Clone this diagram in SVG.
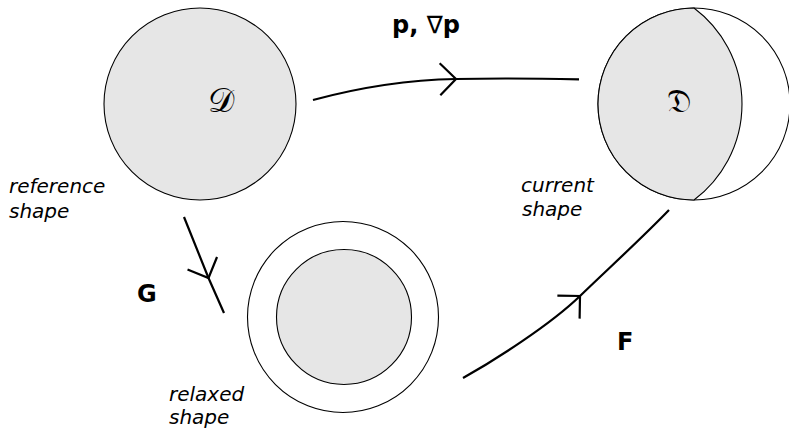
<svg xmlns="http://www.w3.org/2000/svg" width="789" height="432" viewBox="0 0 789 432">
<style>
.shape{stroke:#000;stroke-width:1.1}
.fill{fill:#e6e6e6}
.white{fill:#fff}
.conn{fill:none;stroke:#000;stroke-width:2.2}
.lbl{font-family:"DejaVu Sans",sans-serif;font-style:oblique;font-size:20px;fill:#000}
.bold{font-family:"DejaVu Sans",sans-serif;font-weight:bold;font-size:24px;fill:#000}
.nab{font-weight:normal}
.math{font-family:"DejaVu Serif","DejaVu Sans","Liberation Serif",serif;font-size:33px;fill:#000}
</style>
<defs>
<marker id="chev" viewBox="0 0 40 40" markerWidth="40" markerHeight="40" refX="20" refY="20" orient="auto" markerUnits="userSpaceOnUse">
<path d="M4 4 L20 20 L4 36" fill="none" stroke="#000" stroke-width="2.2"/>
</marker>
</defs>
<g id="reference">
<circle cx="200" cy="104" r="96" class="shape fill"/>
<text x="221" y="112" class="math" text-anchor="middle">𝒟</text>
<text x="9" y="193" class="lbl">reference</text>
<text x="9" y="218" class="lbl">shape</text>
</g>
<g id="current">
<circle cx="694" cy="104" r="96" class="shape white"/>
<path d="M694 8 A120 120 0 0 1 694 200 A96 96 0 0 1 694 8 Z" class="shape fill"/>
<text x="679" y="112" class="math" text-anchor="middle">𝔇</text>
<text x="521" y="192" class="lbl">current</text>
<text x="522" y="216" class="lbl">shape</text>
</g>
<g id="relaxed">
<circle cx="343" cy="317" r="95.5" class="shape white"/>
<circle cx="344" cy="317" r="67.5" class="shape fill"/>
<text x="169" y="401" class="lbl">relaxed</text>
<text x="169" y="424" class="lbl">shape</text>
</g>
<g id="connectors">
<path class="conn" marker-mid="url(#chev)" d="M313 100 C350 90 400 80 456 79 C500 78 540 78.5 579 79.3"/>
<path class="conn" marker-mid="url(#chev)" d="M184 217 L208.5 278 L224 313"/>
<path class="conn" marker-mid="url(#chev)" d="M463 378 C495 360 550 325 580 296 C610 267 640 240 669 210"/>
<text x="392" y="33" class="bold">p, <tspan class="nab">∇</tspan>p</text>
<text x="137" y="302" class="bold">G</text>
<text x="617" y="349.5" class="bold">F</text>
</g>
</svg>
